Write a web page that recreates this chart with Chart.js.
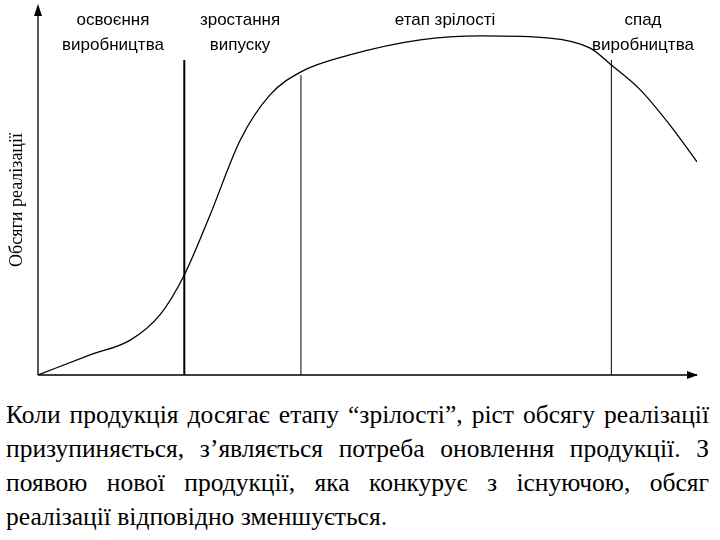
<!DOCTYPE html>
<html><head><meta charset="utf-8">
<script src="https://cdn.jsdelivr.net/npm/chart.js@4"></script>
<style>
body{margin:0;background:#fff;width:720px;height:540px;overflow:hidden}
#c{display:block}
#t{position:absolute;left:6px;top:398px;width:703px;font-family:"Liberation Serif","Times New Roman",serif;font-size:25.5px;line-height:34px;text-align:justify;color:#000}
</style></head><body>
<canvas id="c" width="720" height="390"></canvas>
<div id="t">Коли продукція досягає етапу “зрілості”, ріст обсягу реалізації призупиняється, з’являється потреба оновлення продукції. З появою нової продукції, яка конкурує з існуючою, обсяг реалізації відповідно зменшується.</div>
<script>
const curveX=[0,7.9,14,18.5,22.2,26.1,30.7,35.2,39.9,47.3,58,67.1,77.7,83.8,87,91.4,95.9,100];
const curveY=[0,5.6,9.7,16.7,27.8,44.4,65.3,77.8,84.2,88.9,93.1,94.2,93.6,90.8,86.1,79.2,69.4,59.2];
const stageX=[22.2,39.9,87];
const stageTop=[87.5,83.3,87.5];
const stageLabels=[["освоєння","виробництва",113],["зростання","випуску",240],["етап зрілості","",445],["спад","виробництва",643]];
const yTitle="Обсяги реалізації";
const ds=[{data:curveX.map((x,i)=>({x,y:curveY[i]})),borderColor:'#000',borderWidth:1.3,pointRadius:0,cubicInterpolationMode:'monotone',fill:false}];
stageX.forEach((x,i)=>ds.push({data:[{x,y:0},{x,y:stageTop[i]}],borderColor:'#000',borderWidth:i==0?2:1,pointRadius:0}));
const deco={id:'deco',afterDraw(ch){const c=ch.ctx,a=ch.chartArea;c.save();c.strokeStyle='#000';c.fillStyle='#000';c.lineWidth=1.3;
c.beginPath();c.moveTo(a.left,a.bottom);c.lineTo(a.left,8);c.moveTo(a.left,a.bottom);c.lineTo(a.right,a.bottom);c.stroke();
c.beginPath();c.moveTo(a.left,4);c.lineTo(a.left-4,16);c.lineTo(a.left+4,16);c.fill();
c.beginPath();c.moveTo(a.right+1,a.bottom);c.lineTo(a.right-10,a.bottom-4);c.lineTo(a.right-10,a.bottom+4);c.fill();
c.font='17px "Liberation Sans Narrow","Liberation Sans",sans-serif';c.textAlign='center';
stageLabels.forEach(l=>{c.fillText(l[0],l[2],25);if(l[1])c.fillText(l[1],l[2],50);});
c.translate(22,200);c.rotate(-Math.PI/2);c.font='18px "Liberation Serif",serif';c.fillText(yTitle,0,0);c.restore();}};
new Chart(document.getElementById('c'),{type:'line',data:{datasets:ds},plugins:[deco],
options:{responsive:false,animation:false,layout:{padding:{left:38,right:23,top:15,bottom:15}},
plugins:{legend:{display:false},tooltip:{enabled:false}},
scales:{x:{type:'linear',min:0,max:100,display:false},y:{min:0,max:100,display:false}}}});
</script></body></html>
